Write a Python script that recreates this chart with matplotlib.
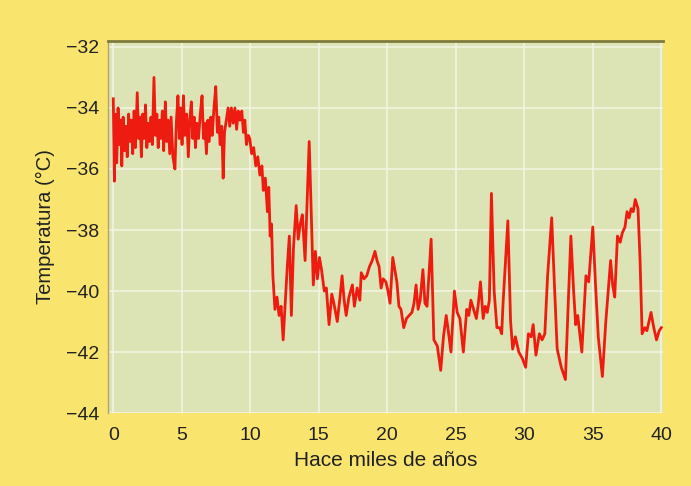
import matplotlib
matplotlib.use("Agg")
import matplotlib.pyplot as plt

# Age (thousands of years ago) and temperature (deg C)
age = [
    0.00, 0.08, 0.15, 0.25, 0.35, 0.45, 0.55, 0.62, 0.72, 0.82, 0.92, 1.02,
    1.12, 1.22, 1.32, 1.42, 1.52, 1.62, 1.75, 1.85, 1.95, 2.05, 2.15, 2.25,
    2.35, 2.45, 2.55, 2.65, 2.75, 2.85, 2.97, 3.08, 3.18, 3.28, 3.38, 3.48,
    3.58, 3.68, 3.80, 3.90, 4.00, 4.12, 4.22, 4.35, 4.50, 4.60, 4.72, 4.82,
    4.92, 5.02, 5.12, 5.22, 5.35, 5.48, 5.58, 5.70, 5.80, 5.90, 6.00, 6.10,
    6.22, 6.35, 6.48, 6.58, 6.68, 6.80, 6.90, 7.00, 7.12, 7.22, 7.35, 7.48,
    7.60, 7.70, 7.80, 7.92, 8.02, 8.12, 8.25, 8.38, 8.50, 8.62, 8.75, 8.88,
    9.00, 9.12, 9.25, 9.38, 9.50, 9.60, 9.72, 9.85, 9.96, 10.10, 10.25, 10.40,
    10.55, 10.70, 10.85, 10.95, 11.10, 11.25, 11.35, 11.45, 11.55, 11.65, 11.80, 11.95,
    12.10, 12.25, 12.40, 12.55, 12.70, 12.85, 13.00, 13.15, 13.35, 13.50, 13.65, 13.80,
    14.00, 14.15, 14.30, 14.45, 14.60, 14.75, 14.90, 15.05, 15.20, 15.40, 15.55, 15.75,
    15.95, 16.10, 16.35, 16.55, 16.70, 16.85, 17.00, 17.20, 17.45, 17.60, 17.80, 18.00,
    18.10, 18.30, 18.50, 18.70, 18.90, 19.10, 19.25, 19.40, 19.55, 19.70, 19.90, 20.05,
    20.20, 20.40, 20.55, 20.70, 20.85, 21.00, 21.20, 21.40, 21.60, 21.80, 21.95, 22.10,
    22.25, 22.40, 22.60, 22.75, 22.90, 23.20, 23.40, 23.65, 23.90, 24.10, 24.30, 24.45,
    24.65, 24.90, 25.10, 25.30, 25.55, 25.80, 25.95, 26.10, 26.30, 26.50, 26.65, 26.80,
    27.00, 27.15, 27.30, 27.45, 27.60, 27.80, 28.00, 28.20, 28.35, 28.45, 28.80, 29.00,
    29.15, 29.35, 29.60, 29.85, 30.10, 30.30, 30.50, 30.65, 30.85, 31.10, 31.30, 31.50,
    31.70, 32.00, 32.20, 32.40, 32.70, 33.00, 33.20, 33.40, 33.60, 33.75, 33.90, 34.20,
    34.50, 34.70, 35.00, 35.20, 35.40, 35.70, 35.95, 36.30, 36.45, 36.60, 36.80, 37.00,
    37.15, 37.35, 37.50, 37.65, 37.80, 37.95, 38.10, 38.30, 38.45, 38.60, 38.80, 38.95,
    39.25, 39.45, 39.65, 39.85, 40.00,
]
temp = [
    -33.7, -36.4, -34.2, -35.8, -34.0, -35.2, -34.4, -35.9, -34.3, -35.4, -34.6, -35.6,
    -34.2, -35.1, -34.4, -35.5, -34.1, -35.3, -33.5, -35.0, -34.3, -35.6, -34.2, -35.0,
    -33.9, -35.3, -34.5, -35.1, -34.3, -35.2, -33.0, -34.9, -34.2, -35.3, -34.4, -35.0,
    -34.1, -35.4, -33.8, -35.1, -34.4, -35.5, -34.3, -35.6, -36.0, -34.5, -33.6, -35.0,
    -34.0, -35.2, -33.6, -34.9, -34.2, -35.6, -34.4, -33.8, -35.0, -34.3, -35.3, -34.5,
    -35.0, -34.2, -33.6, -35.0, -34.5, -35.5, -34.4, -35.1, -34.3, -34.9, -34.0, -33.3,
    -34.8, -34.3, -35.2, -34.6, -36.3, -34.8, -34.4, -34.0, -34.6, -34.0, -34.5, -34.0,
    -34.7, -34.1, -34.4, -34.1, -34.8, -34.4, -35.2, -34.9, -35.0, -35.5, -35.3, -35.9,
    -35.6, -36.2, -35.9, -36.7, -36.3, -37.4, -36.6, -38.2, -37.8, -39.5, -40.6, -40.2,
    -40.8, -40.5, -41.6, -40.4, -39.2, -38.2, -40.8, -38.6, -37.2, -38.3, -37.8, -37.5,
    -39.0, -37.0, -35.1, -37.5, -39.8, -38.7, -39.6, -38.9, -39.3, -40.0, -39.9, -41.1,
    -40.1, -40.4, -41.0, -40.2, -39.5, -40.3, -40.8, -40.2, -39.8, -40.5, -39.9, -40.3,
    -39.4, -39.6, -39.5, -39.2, -39.0, -38.7, -39.0, -39.2, -39.9, -39.6, -39.7, -40.0,
    -40.4, -38.9, -39.3, -39.7, -40.5, -40.6, -41.2, -40.9, -40.8, -40.7, -40.4, -39.8,
    -40.6, -40.3, -39.3, -40.4, -40.5, -38.3, -41.6, -41.8, -42.6, -41.5, -40.8, -41.3,
    -42.0, -40.0, -40.7, -40.9, -42.0, -40.6, -40.8, -40.3, -40.6, -40.9, -40.4, -39.7,
    -40.9, -40.5, -40.7, -40.3, -36.8, -40.0, -41.2, -41.2, -41.4, -40.4, -37.7, -41.0,
    -41.9, -41.5, -42.0, -42.2, -42.5, -41.4, -41.5, -41.1, -42.1, -41.4, -41.6, -41.4,
    -39.5, -37.6, -39.8, -41.9, -42.5, -42.9, -40.5, -38.2, -40.0, -41.1, -40.8, -42.0,
    -39.5, -39.7, -37.9, -39.8, -41.5, -42.8, -41.0, -39.0, -39.8, -40.2, -38.2, -38.4,
    -38.1, -37.9, -37.4, -37.6, -37.3, -37.4, -37.0, -37.3, -39.0, -41.4, -41.2, -41.3,
    -40.7, -41.2, -41.6, -41.3, -41.2,
]

x_ticks = [0, 5, 10, 15, 20, 25, 30, 35, 40]
y_ticks = [-44, -42, -40, -38, -36, -34, -32]

plt.rcParams['font.family'] = ['Liberation Sans', 'DejaVu Sans']

fig = plt.figure(figsize=(6.91, 4.86), dpi=100, facecolor='#f9e56e')
ax = fig.add_axes([0.156, 0.150, 0.803, 0.766])
ax.set_facecolor('#dce3b4')

ax.plot(age, temp, color='#ee1c10', linewidth=2.0, zorder=3)

ax.set_xlim(-0.4, 40.1)
ax.set_ylim(-44, -31.8)
ax.set_xticks(x_ticks)
ax.set_yticks(y_ticks)
ax.grid(True, color='#f4f6e4', linewidth=1.1, zorder=1)
ax.set_axisbelow(True)
ax.tick_params(length=0, labelsize=14, colors='#222222')
ax.tick_params(axis='x', pad=10)
ax.tick_params(axis='y', pad=6)

for side in ['right', 'bottom']:
    ax.spines[side].set_visible(False)
ax.spines['top'].set_color('#7d7a3c')
ax.spines['top'].set_linewidth(2)
ax.spines['left'].set_color('#b8a070')
ax.spines['left'].set_linewidth(1)

ax.set_xlabel('Hace miles de años', fontsize=15, color='#222222', labelpad=5)
ax.set_ylabel('Temperatura (°C)', fontsize=14.5, color='#222222', labelpad=8)

fig.savefig('out.png', dpi=100, facecolor=fig.get_facecolor())
